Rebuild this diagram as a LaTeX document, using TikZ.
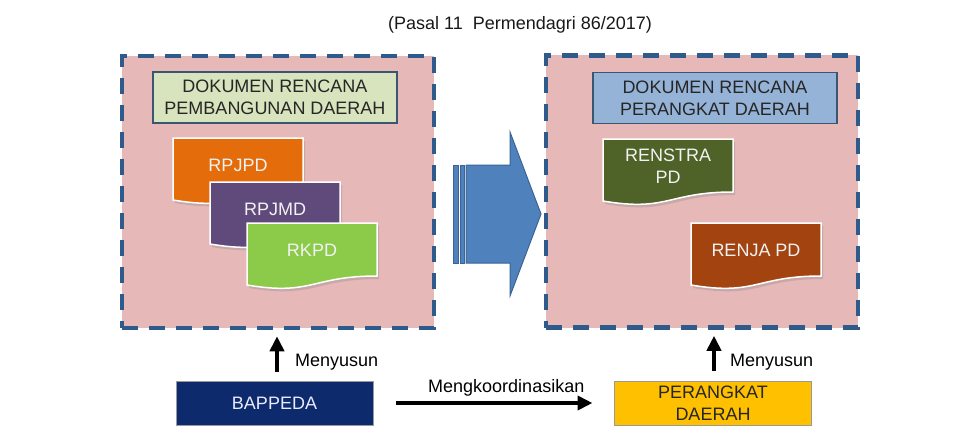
\documentclass[tikz,border=0pt]{standalone}
\usepackage{fontspec}
\setmainfont{Liberation Sans}
\usetikzlibrary{arrows.meta,shadows}

\definecolor{merahmuda}{HTML}{E6B9B8}
\definecolor{garisbiru}{HTML}{2F5B8C}
\definecolor{hijaumuda}{HTML}{D7E4BD}
\definecolor{birumuda}{HTML}{95B3D7}
\definecolor{bingkai}{HTML}{3B5670}
\definecolor{oranye}{HTML}{E46C0A}
\definecolor{ungu}{HTML}{604A7B}
\definecolor{hijau}{HTML}{8CCB4A}
\definecolor{zaitun}{HTML}{4F6228}
\definecolor{coklat}{HTML}{A3430F}
\definecolor{biruarah}{HTML}{4F81BD}
\definecolor{biruarahgelap}{HTML}{3A6496}
\definecolor{navy}{HTML}{0C2A6C}
\definecolor{kuning}{HTML}{FFC000}

\tikzset{
	wadah/.style={draw=garisbiru, fill=merahmuda, line width=4.5pt,
		dash pattern=on 16pt off 11pt, minimum width=312pt,
		minimum height=272pt, inner sep=0pt},
	judul/.style={draw=bingkai, line width=1.5pt, minimum width=244pt,
		minimum height=51pt, align=center, inner sep=0pt, text=black!85},
	doktext/.style={text=white!95!black, align=center, inner sep=0pt},
	pelaku/.style={draw=gray!80, line width=1pt, minimum width=197pt,
		minimum height=44pt, align=center, inner sep=0pt},
	panah/.style={line width=4.5pt, -{Triangle[width=14pt,length=15pt]}},
}

\newcommand{\dokumen}[3]{%
	\begin{scope}[shift={(#1,#2)}]
	\fill[#3, draw=white, line width=1.5pt,
		drop shadow={opacity=0.3, shadow xshift=2pt, shadow yshift=-3pt}]
		(0,0) -- (130,0) -- (130,53) .. controls (65,53) and (65,73) .. (0,62) -- cycle;
	\end{scope}}

\begin{document}
\begin{tikzpicture}[x=1pt, y=-1pt, font=\fontsize{18}{22}\selectfont]
	\fill[white] (0,0) rectangle (979,433);
	\useasboundingbox (0,0) rectangle (979,433);

	\node[text=black!90] (pasal) at (520,25) {(Pasal 11\ \ Permendagri 86/2017)};

	% dokumen daerah
	\node[wadah] (kiri) at (278,192) {};
	\node[judul, fill=hijaumuda] (rpd) at (275,97.5) {DOKUMEN RENCANA\\PEMBANGUNAN DAERAH};
	\dokumen{173}{138}{oranye}
	\node[doktext] (rpjpd) at (238,165) {RPJPD};
	\dokumen{210}{182}{ungu}
	\node[doktext] (rpjmd) at (275,209) {RPJMD};
	\dokumen{247}{223}{hijau}
	\node[doktext] (rkpd) at (312,250) {RKPD};

	% dokumen perangkat daerah
	\node[wadah] (kanan) at (702,191.5) {};
	\node[judul, fill=birumuda] (rpk) at (715,98) {DOKUMEN RENCANA\\PERANGKAT DAERAH};
	\dokumen{603}{139}{zaitun}
	\node[doktext] (renstra) at (668,166) {RENSTRA\\PD};
	\dokumen{691}{223}{coklat}
	\node[doktext] (renja) at (756,250) {RENJA PD};

	% panah besar
	\filldraw[fill=biruarah, draw=biruarahgelap, line width=1pt]
		(466,165) -- (510,165) -- (510,132) -- (541,214) -- (510,296)
		-- (510,263) -- (466,263) -- cycle;
	\filldraw[fill=biruarah, draw=biruarahgelap, line width=1pt]
		(453,165) rectangle (458,263);
	\filldraw[fill=biruarah, draw=biruarahgelap, line width=1pt]
		(460,165) rectangle (464,263);

	\node[pelaku, fill=navy, text=white!92!blue] (bappeda) at (274.5,403) {BAPPEDA};
	\node[pelaku, fill=kuning, text=black!85] (pd) at (713,403) {PERANGKAT\\DAERAH};

	\draw[panah, shorten <=9pt, shorten >=6pt]
		([xshift=2.5pt]bappeda.north) -- ([xshift=2.5pt]bappeda.north |- kiri.south);
	\node[anchor=base west, inner sep=0pt] (susunkiri) at (295,366.5) {Menyusun};
	\draw[panah, shorten <=10pt, shorten >=6pt]
		([xshift=1pt]pd.north) -- ([xshift=1pt]pd.north |- kanan.south);
	\node[anchor=base west, inner sep=0pt] (susunkanan) at (730,366.5) {Menyusun};

	\draw[panah, line width=4pt, shorten <=22.5pt, shorten >=21.5pt]
		(bappeda.east) -- (bappeda.east -| pd.west)
		node[pos=0.5, anchor=base, xshift=12.5pt, yshift=11pt, inner sep=0pt] {Mengkoordinasikan};
\end{tikzpicture}
\end{document}
